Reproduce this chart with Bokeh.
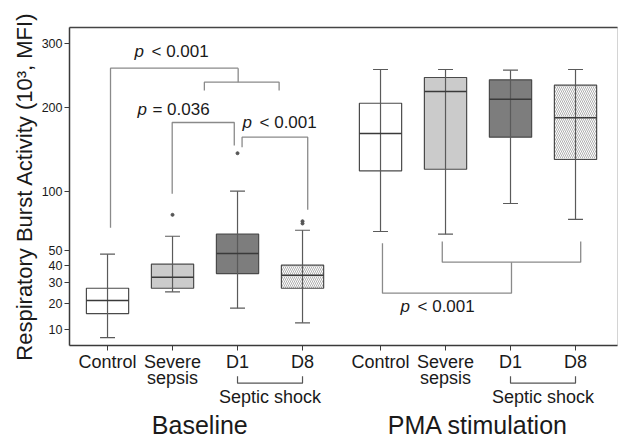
import numpy as np
from bokeh.plotting import figure
from bokeh.models import Range1d, FixedTicker, CustomJSTickFormatter, LinearAxis, ColumnDataSource
from bokeh.core.properties import value
from bokeh.embed import file_html
from bokeh.resources import INLINE

# ---------------- data (values in 10^3 MFI) ----------------
groups = ["Control", "Severe sepsis", "D1", "D8", "Control", "Severe sepsis", "D1", "D8"]
conditions = ["Baseline"] * 4 + ["PMA stimulation"] * 4
x_pos = [1, 2, 3, 4, 5.2, 6.2, 7.2, 8.2]
tick_labels = ["Control", "Severe\nsepsis", "D1", "D8"] * 2
lower = [7.7, 25.4, 17.9, 12.3, 64.3, 62.2, 88.4, 74.2]
q1 = [15.7, 27.2, 35.3, 27.2, 121.4, 123.1, 160.7, 134.0]
median = [21.2, 33.2, 48.0, 34.3, 165.4, 223.1, 211.9, 186.0]
q3 = [27.2, 41.0, 62.2, 40.4, 206.1, 244.2, 240.7, 232.5]
upper = [47.6, 60.6, 100.2, 65.3, 256.7, 256.7, 255.6, 256.7]
outlier_x = [2, 3, 4, 4]
outlier_val = [78.2, 141.3, 70.8, 72.7]
y_ticks = [10, 20, 30, 40, 50, 100, 200, 300]

# significance brackets (x in category units, y in 10^3 MFI)
bracket_paths = [
    ([1.046, 1.046, 3.01], [67.3, 258.8, 258.8]),
    ([3.01, 3.01], [258.8, 237.0]),
    ([2.49, 2.49, 3.64, 3.64], [224.6, 237.0, 237.0, 224.6]),
    ([1.995, 1.995, 2.95, 2.95], [97.6, 179.7, 179.7, 150.5]),
    ([3.07, 3.07, 4.08, 4.08], [148.4, 160.7, 160.7, 82.6]),
    ([5.23, 5.23, 7.215, 7.215], [55.4, 24.7, 24.7, 42.3]),
    ([6.15, 6.15, 8.28, 8.28], [56.6, 42.3, 42.3, 56.6]),
]
p_texts = ["< 0.001", "= 0.036", "< 0.001", "< 0.001"]
p_text_x = [1.415, 1.46, 3.077, 5.508]
p_text_y = [286.2, 197.0, 180.3, 18.65]

fills = ["#ffffff", "#cbcbcb", "#7d7d7d", "#ffffff"] * 2
hatches = [" ", " ", " ", "\\"] * 2

# ---------------- figure ----------------
Y0, Y1 = 2.386, 18.098          # sqrt-scale range
X0, X1 = 0.415, 8.846
FRAME_H = 318.0
PX = FRAME_H / (Y1 - Y0)        # pixels per sqrt unit

p = figure(width=618, height=438, x_range=Range1d(X0, X1), y_range=Range1d(Y0, Y1),
           output_backend="svg", toolbar_location=None,
           min_border_left=69, min_border_right=1, min_border_top=27, min_border_bottom=93)
p.xgrid.visible = False
p.ygrid.visible = False
p.outline_line_color = "#d4d4d4"
p.background_fill_color = "white"
p.border_fill_color = "white"

FONT = "Liberation Sans"
TXT = "#1a1a1a"
AX = "#3a3a3a"

# y axis (square-root scale)
ya = p.yaxis[0]
ya.ticker = FixedTicker(ticks=list(np.sqrt(y_ticks)))
ya.formatter = CustomJSTickFormatter(code="return String(Math.round(tick*tick));")
ya.minor_tick_line_color = None
ya.major_tick_out = 5
ya.major_tick_in = 0
ya.major_tick_line_color = AX
ya.axis_line_color = AX
ya.axis_line_width = 1.5
ya.major_label_text_font = FONT
ya.major_label_text_font_size = "12.5px"
ya.major_label_text_color = TXT
ya.major_label_standoff = 2
ya.axis_label = "Respiratory Burst Activity (10³, MFI)"
ya.axis_label_text_font = FONT
ya.axis_label_text_font_style = "normal"
ya.axis_label_text_font_size = "22px"
ya.axis_label_text_color = TXT
ya.axis_label_standoff = 2

# x axis
xa = p.xaxis[0]
xa.ticker = FixedTicker(ticks=x_pos)
xa.formatter = CustomJSTickFormatter(args=dict(pos=x_pos, labels=tick_labels), code="""
for (let i = 0; i < pos.length; i++) { if (Math.abs(pos[i] - tick) < 1e-6) return labels[i]; }
return "";
""")
xa.minor_tick_line_color = None
xa.major_tick_out = 5
xa.major_tick_in = 0
xa.major_tick_line_color = AX
xa.axis_line_color = AX
xa.axis_line_width = 1.5
xa.major_label_text_font = FONT
xa.major_label_text_font_size = "18px"
xa.major_label_text_color = TXT
xa.major_label_standoff = 1
xa.major_label_text_line_height = 0.8

# top frame line
top = LinearAxis(ticker=FixedTicker(ticks=[]), axis_line_color="#444444", axis_line_width=1.5,
                 major_tick_line_color=None, minor_tick_line_color=None,
                 major_label_text_font_size="0px")
p.add_layout(top, "above")

# ---------------- boxes ----------------
sy = np.sqrt
src = ColumnDataSource(dict(
    x=x_pos, q1=sy(q1), q3=sy(q3), med=sy(median), lo=sy(lower), hi=sy(upper),
    fill=fills, hatch=hatches,
    xl=np.array(x_pos) - 0.325, xr=np.array(x_pos) + 0.325,
    cl=np.array(x_pos) - 0.115, cr=np.array(x_pos) + 0.115,
))
p.vbar(x="x", width=0.65, bottom="q1", top="q3", source=src, fill_color="fill",
       line_color="#4a4a4a", line_width=1.2, hatch_pattern="hatch", hatch_color="#9a9a9a",
       hatch_scale=4, hatch_weight=0.8)
p.segment(x0="x", y0="lo", x1="x", y1="hi", source=src, line_color="#5a5a5a", line_width=1.2)
p.segment(x0="cl", y0="lo", x1="cr", y1="lo", source=src, line_color="#5a5a5a", line_width=1.2)
p.segment(x0="cl", y0="hi", x1="cr", y1="hi", source=src, line_color="#5a5a5a", line_width=1.2)
p.segment(x0="xl", y0="med", x1="xr", y1="med", source=src, line_color="#3a3a3a", line_width=1.5)
p.scatter(x=outlier_x, y=sy(outlier_val), size=3, color="#555555")

# ---------------- brackets & p-values ----------------
p.multi_line(xs=[b[0] for b in bracket_paths], ys=[list(sy(b[1])) for b in bracket_paths],
             line_color="#8a8a8a", line_width=1.3)
ptxt = ColumnDataSource(dict(x=p_text_x, y=list(sy(p_text_y)), p=["p"] * 4, t=p_texts,
                             off=[17, 15, 17, 17]))
p.text(x="x", y="y", text="p", source=ptxt, text_font=value(FONT),
       text_font_style="italic", text_font_size="17px", text_color=TXT,
       text_align="left", text_baseline="middle")
p.text(x="x", y="y", text="t", source=ptxt, text_font=value(FONT),
       text_font_size="17px", text_color=TXT, x_offset="off",
       text_align="left", text_baseline="middle")

# ---------------- below-axis annotations ----------------
def below(px):
    return Y0 - px / PX

shock_pairs = [(3, 4), (7.2, 8.2)]
br = p.multi_line(xs=[[a, a, b, b] for a, b in shock_pairs],
                  ys=[[below(30.7), below(37.7), below(37.7), below(30.7)]] * 2,
                  line_color="#555555", line_width=1.2)
br.level = "overlay"
t1 = p.text(x=[(a + b) / 2 for a, b in shock_pairs], y=[below(51.2)] * 2,
            text=["Septic shock"] * 2, text_font=value(FONT), text_font_size="18px",
            text_color=TXT, text_align="center", text_baseline="middle")
t1.level = "overlay"
t2 = p.text(x=[2.42, 6.7], y=[below(79.5)] * 2, text=["Baseline", "PMA stimulation"],
            text_font=value(FONT), text_font_size="25px", text_color=TXT,
            text_align="center", text_baseline="middle")
t2.level = "overlay"

open("out.html", "w").write(file_html(p, INLINE))
